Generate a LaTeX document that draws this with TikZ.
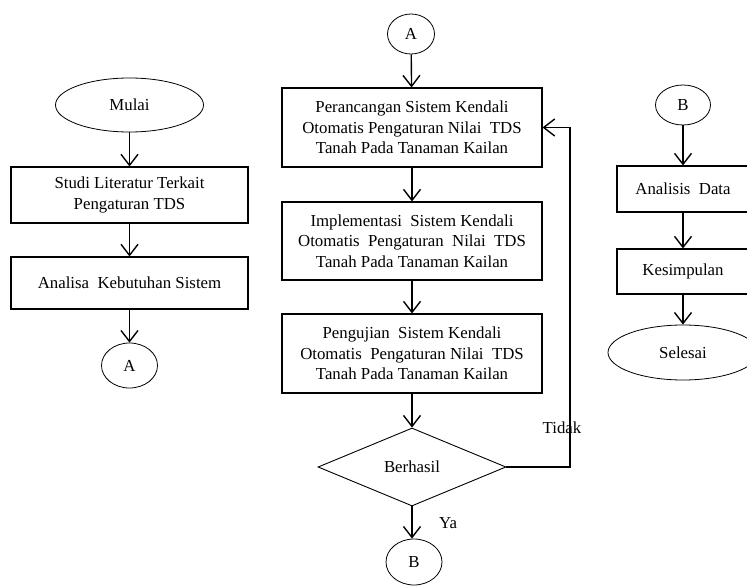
\documentclass[tikz,border=0pt]{standalone}
\usepackage{fontspec}
\setmainfont{Liberation Serif}
\usetikzlibrary{arrows.meta,shapes.geometric}
\newcommand{\flowfont}{\fontsize{16.8}{20.5}\selectfont}
\begin{document}
\begin{tikzpicture}[x=1pt,y=-1pt,
  box/.style={draw, line width=1.1pt, inner sep=0pt, align=center, font=\flowfont},
  term/.style={draw, ellipse, line width=0.8pt, inner sep=0pt, align=center, font=\flowfont},
  conn/.style={draw, ellipse, line width=0.8pt, inner sep=0pt, font=\flowfont},
  decision/.style={draw, diamond, line width=0.9pt, inner sep=0pt, font=\flowfont},
  lbl/.style={inner sep=0pt, font=\flowfont},
  arr/.style={line width=1.4pt, -{Straight Barb[length=11pt,width=17pt,line width=1.4pt]}}
]
\useasboundingbox (0,0) rectangle (747,586);
\clip (0,0) rectangle (747,586);
\fill[white] (0,0) rectangle (747,586);

% left column
\node[term, minimum width=148pt, minimum height=54pt] (mulai) at (129.5,105) {Mulai};
\node[box, minimum width=237pt, minimum height=56pt] (s1) at (129.5,195) {Studi Literatur Terkait\\Pengaturan TDS};
\node[box, minimum width=237pt, minimum height=52pt] (s2) at (129.5,283) {Analisa\ \ Kebutuhan Sistem};
\node[conn, minimum width=56pt, minimum height=45pt] (A1) at (129.5,365.5) {A};

% middle column
\node[conn, minimum width=47pt, minimum height=40pt] (A2) at (411,34) {A};
\node[box, minimum width=260pt, minimum height=79pt] (p1) at (412,127.5) {Perancangan Sistem Kendali\\Otomatis Pengaturan Nilai\ \ TDS\\Tanah Pada Tanaman Kailan};
\node[box, minimum width=260pt, minimum height=78pt] (p2) at (412,241) {Implementasi\ \ Sistem Kendali\\Otomatis\ \ Pengaturan\ \ Nilai\ \ TDS\\Tanah Pada Tanaman Kailan};
\node[box, minimum width=260pt, minimum height=79pt] (p3) at (412,353.5) {Pengujian\ \ Sistem Kendali\\Otomatis\ \ Pengaturan Nilai\ \ TDS\\Tanah Pada Tanaman Kailan};
\node[decision, minimum width=188pt, minimum height=78pt] (dec) at (412,467) {Berhasil};
\node[conn, minimum width=56pt, minimum height=46pt] (B1) at (414,562) {B};
\coordinate (turn) at (570,467);
\node[lbl] (tidak) at (562,428) {Tidak};
\node[lbl] (ya) at (448,523) {Ya};

% right column
\node[conn, minimum width=55pt, minimum height=40pt] (B2) at (683,105) {B};
\node[box, minimum width=132pt, minimum height=46pt] (ad) at (683,189) {Analisis\ \ Data};
\node[box, minimum width=132pt, minimum height=45pt] (ks) at (683,271.5) {Kesimpulan};
\node[term, minimum width=150pt, minimum height=55pt] (sel) at (683,352.5) {Selesai};

% connectors
\draw[arr] (mulai) -- (s1);
\draw[arr] (s1) -- (s2);
\draw[arr] (s2) -- (A1);
\draw[arr] (A2) -- (p1);
\draw[arr] (p1) -- (p2);
\draw[arr] (p2) -- (p3);
\draw[arr] (p3) -- (dec);
\draw[arr] (dec.south) -- (dec.south |- B1.north);
\draw[arr] (dec.east) -- (turn) |- (p1.east);
\draw[arr] (B2) -- (ad);
\draw[arr] (ad) -- (ks);
\draw[arr] (ks) -- (sel);
\end{tikzpicture}
\end{document}
